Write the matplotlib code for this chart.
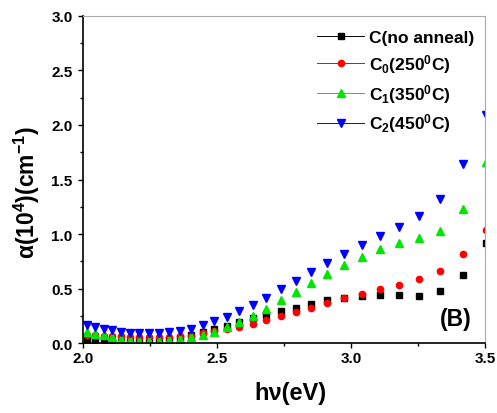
import matplotlib
matplotlib.use("Agg")
import matplotlib.pyplot as plt
from matplotlib.lines import Line2D
from matplotlib.ticker import MultipleLocator

plt.rcParams['font.family'] = ['Liberation Sans', 'DejaVu Sans']
plt.rcParams['font.weight'] = 'bold'
plt.rcParams['mathtext.fontset'] = 'custom'
plt.rcParams['mathtext.rm'] = 'Liberation Sans:bold'
plt.rcParams['mathtext.it'] = 'Liberation Sans:bold'
plt.rcParams['mathtext.bf'] = 'Liberation Sans:bold'

# photon energy (eV)
energy = [2.016, 2.046, 2.077, 2.109, 2.142, 2.175, 2.210, 2.246, 2.284, 2.322,
          2.362, 2.403, 2.446, 2.490, 2.536, 2.583, 2.633, 2.684, 2.737, 2.793,
          2.851, 2.911, 2.974, 3.039, 3.108, 3.179, 3.255, 3.333, 3.416, 3.503]

# absorption coefficient (10^4 cm^-1)
c_none = [0.028, 0.027, 0.024, 0.016, 0.010, 0.006, 0.005, 0.007, 0.012, 0.025,
          0.045, 0.075, 0.100, 0.131, 0.157, 0.193, 0.232, 0.256, 0.290, 0.324,
          0.360, 0.392, 0.410, 0.432, 0.438, 0.438, 0.432, 0.474, 0.628, 0.922]
c0_250 = [0.072, 0.071, 0.067, 0.063, 0.060, 0.057, 0.056, 0.056, 0.056, 0.058,
          0.062, 0.068, 0.088, 0.110, 0.125, 0.145, 0.177, 0.214, 0.248, 0.288,
          0.324, 0.370, 0.414, 0.453, 0.493, 0.536, 0.585, 0.665, 0.821, 1.041]
c1_350 = [0.099, 0.086, 0.070, 0.052, 0.040, 0.030, 0.022, 0.017, 0.018, 0.025,
          0.036, 0.052, 0.072, 0.104, 0.147, 0.193, 0.248, 0.315, 0.392, 0.469,
          0.551, 0.637, 0.715, 0.790, 0.860, 0.922, 0.965, 1.026, 1.225, 1.657]
c2_450 = [0.163, 0.148, 0.132, 0.115, 0.103, 0.095, 0.090, 0.089, 0.091, 0.097,
          0.113, 0.132, 0.162, 0.200, 0.239, 0.294, 0.352, 0.417, 0.493, 0.570,
          0.649, 0.735, 0.818, 0.903, 0.983, 1.066, 1.165, 1.320, 1.640, 2.090]

labels = ['C(no anneal)', 'C$_0$(250$^0$C)', 'C$_1$(350$^0$C)', 'C$_2$(450$^0$C)']

series = [
    (c_none, 'black', 's', 4.0),
    (c0_250, 'red', 'o', 4.5),
    (c1_350, '#00e600', '^', 5.5),
    (c2_450, 'blue', 'v', 5.5),
]

fig = plt.figure(figsize=(4.97, 4.14), dpi=100)
ax = fig.add_axes([0.167, 0.169, 0.809, 0.790])

handles = []
for (vals, col, mk, ms), lab in zip(series, labels):
    ax.plot(energy, vals, linestyle='none', marker=mk, color=col, markersize=ms)
    handles.append(Line2D([], [], color=col, marker=mk, markersize=ms,
                          linewidth=0.7, label=lab))

ax.set_xlim(2.0, 3.5)
ax.set_ylim(0.0, 3.0)
ax.xaxis.set_major_locator(MultipleLocator(0.5))
ax.xaxis.set_minor_locator(MultipleLocator(0.25))
ax.yaxis.set_major_locator(MultipleLocator(0.5))
ax.yaxis.set_minor_locator(MultipleLocator(0.25))
ax.tick_params(which='both', direction='out', labelsize=11, width=1)
ax.tick_params(which='major', length=3.5)
ax.tick_params(which='minor', length=2)
ax.tick_params(axis='x', pad=2)
ax.tick_params(axis='y', pad=4)

for side in ['left', 'bottom']:
    ax.spines[side].set_linewidth(1.2)
for side in ['top', 'right']:
    ax.spines[side].set_color('#aaaaaa')
    ax.spines[side].set_linewidth(0.8)

ax.set_xlabel('hν(eV)', fontsize=17, fontweight='bold')
ax.set_ylabel('α(10$^4$)(cm$^{-1}$)', fontsize=16.5, fontweight='bold')
ax.xaxis.set_label_coords(0.515, -0.115)
ax.yaxis.set_label_coords(-0.102, 0.462)

ax.legend(handles=handles, loc='upper right', frameon=False,
          handlelength=2.7, labelspacing=0.4, handletextpad=0.3,
          borderaxespad=0.2, bbox_to_anchor=(1.0, 0.99),
          prop={'weight': 'bold', 'size': 12.5})

ax.text(0.928, 0.076, '(B)', transform=ax.transAxes, fontsize=16.5,
        fontweight='bold', ha='center', va='center')

fig.savefig('out.png', dpi=100)
